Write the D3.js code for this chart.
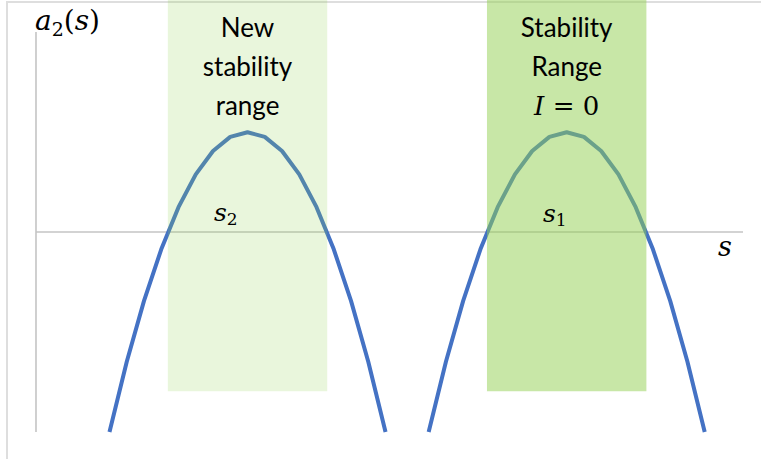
<!DOCTYPE html>
<html>
<head>
<meta charset="utf-8">
<script src="https://cdn.jsdelivr.net/npm/d3@7"></script>
<style>
  html, body { margin: 0; padding: 0; background: #fff; }
  svg { display: block; }
</style>
</head>
<body>
<svg id="chart" width="761" height="459"></svg>
<script>
// Parabola samples a2(s) around each centre
const sLeft  = [-8, -7, -6, -5, -4, -3, -2, -1, 0, 1, 2, 3, 4, 5, 6, 7, 8];
const sRight = [10.5, 11.5, 12.5, 13.5, 14.5, 15.5, 16.5, 17.5, 18.5, 19.5, 20.5, 21.5, 22.5, 23.5, 24.5, 25.5, 26.5];
const a2Values = [-42.7, -27.7, -14.7, -3.7, 5.3, 12.3, 17.3, 20.3, 21.3, 20.3, 17.3, 12.3, 5.3, -3.7, -14.7, -27.7, -42.7];

// Shaded stability ranges (between the zero crossings)
const rangeStarts = [-4.62, 13.88];
const rangeEnds   = [4.62, 23.12];
const rangeBottom = -34;
const rangeTop    = 50;
const rangeOpacity = [0.2, 0.5];

const svg = d3.select("#chart");

const x = d3.scaleLinear().domain([-12.26, 28.72]).range([36, 743]);
const y = d3.scaleLinear().domain([-42.7, 42.7]).range([432, 32]);

// outer frame
svg.append("path")
  .attr("d", "M7,459 V2 H761")
  .attr("fill", "none")
  .attr("stroke", "#dedede")
  .attr("stroke-width", 2);

// axes
svg.append("line")
  .attr("x1", x.range()[0]).attr("x2", x.range()[0])
  .attr("y1", y.range()[0]).attr("y2", y.range()[1])
  .attr("stroke", "#c4c4c4").attr("stroke-width", 1.6);
svg.append("line")
  .attr("x1", x.range()[0]).attr("x2", x.range()[1])
  .attr("y1", y(0)).attr("y2", y(0))
  .attr("stroke", "#c4c4c4").attr("stroke-width", 1.6);

// curves
const line = d3.line().x(d => x(d[0])).y(d => y(d[1]));
[sLeft, sRight].forEach(sArr => {
  svg.append("path")
    .datum(sArr.map((s, i) => [s, a2Values[i]]))
    .attr("d", line)
    .attr("fill", "none")
    .attr("stroke", "#4472c4")
    .attr("stroke-width", 4)
    .attr("stroke-linejoin", "round");
});

// translucent range bands over the curves
rangeStarts.forEach((s0, i) => {
  svg.append("rect")
    .attr("x", x(s0))
    .attr("width", x(rangeEnds[i]) - x(s0))
    .attr("y", y(rangeTop))
    .attr("height", y(rangeBottom) - y(rangeTop))
    .attr("fill", "#92d050")
    .attr("fill-opacity", rangeOpacity[i]);
});

// band captions
const sans = "Lato, 'Open Sans', sans-serif";
const math = "'DejaVu Serif', 'Liberation Serif', serif";

function caption(lines, cx) {
  lines.forEach((t, i) => {
    svg.append("text")
      .attr("x", cx).attr("y", 37 + i * 39)
      .attr("text-anchor", "middle")
      .attr("font-family", sans)
      .attr("font-size", 26)
      .attr("fill", "#000")
      .text(t);
  });
}
const cLeft = x((rangeStarts[0] + rangeEnds[0]) / 2);
const cRight = x((rangeStarts[1] + rangeEnds[1]) / 2);
caption(["New", "stability", "range"], cLeft);
caption(["Stability", "Range"], cRight);

// I = 0
const eq = svg.append("text")
  .attr("x", cRight).attr("y", 115)
  .attr("text-anchor", "middle")
  .attr("font-family", math)
  .attr("font-size", 26)
  .attr("fill", "#000");
eq.append("tspan").attr("font-style", "italic").text("I");
eq.append("tspan").text(" = 0");

// a2(s) axis title
const yt = svg.append("text")
  .attr("x", 35).attr("y", 30)
  .attr("font-family", math)
  .attr("font-size", 28)
  .attr("fill", "#000");
yt.append("tspan").attr("font-style", "italic").text("a");
yt.append("tspan").attr("font-size", 19).attr("dy", 6).text("2");
yt.append("tspan").attr("dy", -6).text("(");
yt.append("tspan").attr("font-style", "italic").text("s");
yt.append("tspan").text(")");

// s axis title
svg.append("text")
  .attr("x", 718).attr("y", 256)
  .attr("font-family", math)
  .attr("font-size", 27)
  .attr("font-style", "italic")
  .attr("fill", "#000")
  .text("s");

// s2 and s1 markers
function sLabel(sub, cx, base) {
  const t = svg.append("text")
    .attr("x", cx).attr("y", base)
    .attr("font-family", math)
    .attr("font-size", 25)
    .attr("fill", "#000");
  t.append("tspan").attr("font-style", "italic").text("s");
  t.append("tspan").attr("font-size", 17).attr("dy", 4).text(sub);
}
sLabel("2", 214, 221);
sLabel("1", 543, 222);
</script>
</body>
</html>
